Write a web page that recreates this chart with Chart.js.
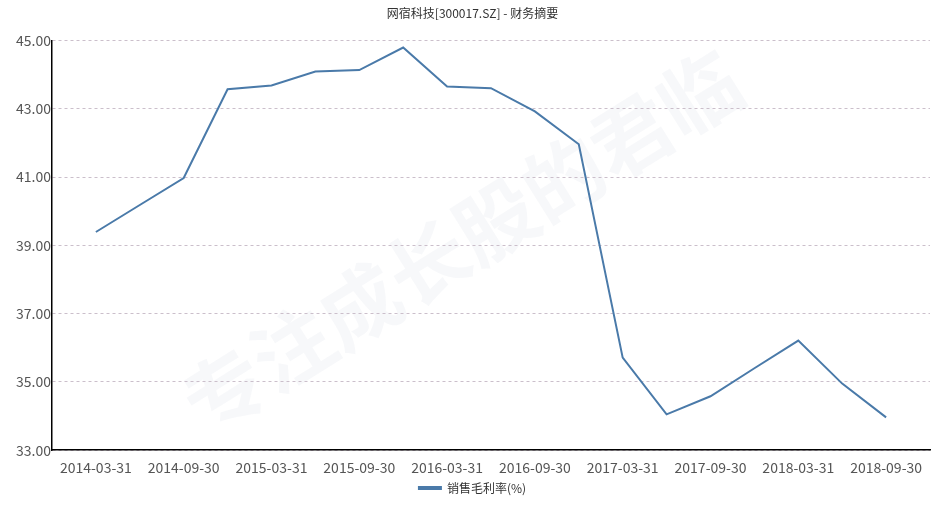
<!DOCTYPE html>
<html>
<head>
<meta charset="utf-8">
<script src="https://cdn.jsdelivr.net/npm/chart.js@4/dist/chart.umd.min.js"></script>
<style>
	html, body { margin: 0; padding: 0; background: #fff; }
	#wrap { width: 952px; height: 505px; }
</style>
</head>
<body>
<div id="wrap"><canvas id="myChart" width="952" height="505"></canvas></div>
<script>
// 网宿科技 销售毛利率, quarterly
const dates = [
	"2014-03-31", "2014-06-30", "2014-09-30", "2014-12-31",
	"2015-03-31", "2015-06-30", "2015-09-30", "2015-12-31",
	"2016-03-31", "2016-06-30", "2016-09-30", "2016-12-31",
	"2017-03-31", "2017-06-30", "2017-09-30", "2017-12-31",
	"2018-03-31", "2018-06-30", "2018-09-30",
];
const grossMargin = [
	39.39, 40.18, 40.97, 43.57,
	43.68, 44.09, 44.13, 44.79,
	43.65, 43.60, 42.92, 41.96,
	35.71, 34.05, 34.58, 35.40,
	36.21, 34.95, 33.96,
];
const yTicks = [33, 35, 37, 39, 41, 43, 45];
const titleText = "网宿科技[300017.SZ] - 财务摘要";
const seriesLabel = "销售毛利率(%)";
const watermark = "专注成长股的君临";

const cjk = "'Noto Sans CJK SC', 'Noto Sans', sans-serif";

const background = {
	id: "background",
	beforeDraw(chart) {
		const ctx = chart.ctx;
		ctx.save();
		ctx.fillStyle = "#fff";
		ctx.fillRect(0, 0, chart.width, chart.height);
		// very faint watermark
		ctx.translate(462, 242);
		ctx.rotate(-0.56);
		ctx.fillStyle = "rgba(215, 220, 232, 0.2)";
		ctx.font = "bold 80px " + cjk;
		ctx.textAlign = "center";
		ctx.textBaseline = "middle";
		ctx.fillText(watermark, 0, 0);
		ctx.restore();
	},
};

const points = grossMargin.map((v, i) => ({ x: i, y: v }));

const ctx = document.getElementById("myChart").getContext("2d");
const myChart = new Chart(ctx, {
	type: "line",
	data: {
		datasets: [
			{
				label: seriesLabel,
				data: points,
				borderColor: "#4a7aa9",
				backgroundColor: "#4a7aa9",
				borderWidth: 2,
				pointRadius: 0,
				tension: 0,
				fill: false,
			},
		],
	},
	options: {
		responsive: false,
		animation: false,
		layout: { padding: { left: 15, right: 22, top: 0, bottom: 1 } },
		scales: {
			x: {
				type: "linear",
				min: -1,
				max: dates.length,
				afterBuildTicks: (scale) => {
					scale.ticks = dates.map((d, i) => ({ value: i })).filter((t) => t.value % 2 === 0);
				},
				ticks: {
					autoSkip: false,
					maxRotation: 0,
					padding: 1,
					color: "#555",
					font: { family: cjk, size: 14 },
					callback: (v) => dates[v] || "",
				},
				grid: { display: false },
				border: { display: true, color: "#000", width: 1.5 },
			},
			y: {
				min: 33,
				max: 45,
				afterBuildTicks: (scale) => {
					scale.ticks = yTicks.map((v) => ({ value: v }));
				},
				ticks: {
					padding: 1,
					color: "#555",
					font: { family: cjk, size: 14 },
					callback: (v) => v.toFixed(2),
				},
				grid: {
					color: "#cbbfcb",
					drawTicks: false,
				},
				border: { display: true, color: "#000", width: 1.5, dash: [3, 3] },
			},
		},
		plugins: {
			title: {
				display: true,
				text: titleText,
				color: "#333",
				font: { family: cjk, size: 12, weight: "normal" },
				padding: { top: 6, bottom: 20 },
			},
			legend: {
				position: "bottom",
				labels: {
					color: "#333",
					font: { family: cjk, size: 12 },
					boxWidth: 22,
					boxHeight: 2,
					padding: 5,
				},
			},
			tooltip: { enabled: false },
		},
	},
	plugins: [background],
});
</script>
</body>
</html>
